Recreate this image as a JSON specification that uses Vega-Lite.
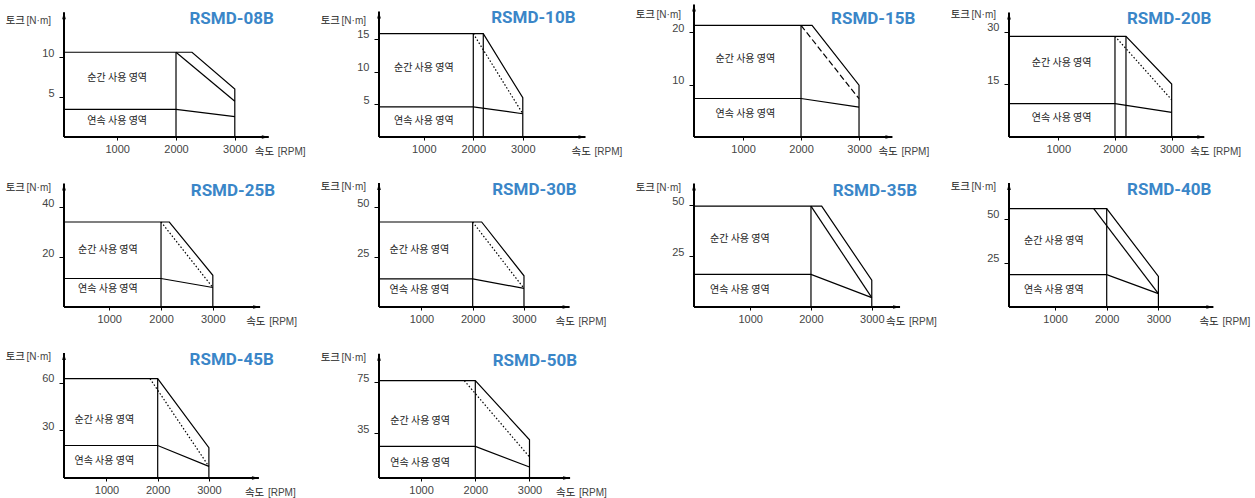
{
"$schema":"https://vega.github.io/schema/vega-lite/v6.json",
"padding":{"left":5,"top":0,"right":5,"bottom":0},
"background":"#ffffff",
"config":{"view":{"stroke":null},"numberFormat":"d",
"axis":{"domain":false,"grid":false,"tickColor":"#000","tickWidth":1,"labelColor":"#444","labelFont":"Liberation Sans Narrow, Liberation Sans","labelFontSize":11},
"axisX":{"tickSize":3,"labelPadding":3},
"axisY":{"tickSize":5,"labelPadding":5,"labelBaseline":"alphabetic","labelOffset":-1},
"line":{"stroke":"#000","strokeWidth":1.2},
"text":{"font":"Noto Sans CJK KR"}},
"datasets":{
"p1":[{"s":"yax","o":0,"x":95,"y":0},{"s":"yax","o":1,"x":95,"y":15.6},{"s":"xax","o":0,"x":95,"y":0},{"s":"xax","o":1,"x":3578,"y":0},
{"s":"peak","o":0,"x":95,"y":10.6},{"s":"peak","o":1,"x":2272,"y":10.6},{"s":"peak","o":2,"x":3000,"y":6.0},{"s":"peak","o":3,"x":3000,"y":0},
{"s":"v2000","o":0,"x":2000,"y":0},{"s":"v2000","o":1,"x":2000,"y":10.6},
{"s":"cont","o":0,"x":95,"y":3.46},{"s":"cont","o":1,"x":2000,"y":3.46},{"s":"cont","o":2,"x":3000,"y":2.54},
{"s":"inner","o":0,"x":2000,"y":10.6},{"s":"inner","o":1,"x":3000,"y":4.46},
{"s":"lab","o":0,"x":1000,"y":7.4,"t":"순간 사용 영역"},{"s":"lab","o":1,"x":1000,"y":2.0,"t":"연속 사용 영역"}],
"p2":[{"s":"yax","o":0,"x":95,"y":0},{"s":"yax","o":1,"x":95,"y":19.2},{"s":"xax","o":0,"x":95,"y":0},{"s":"xax","o":1,"x":4267,"y":0},
{"s":"peak","o":0,"x":95,"y":15.8},{"s":"peak","o":1,"x":2202,"y":15.8},{"s":"peak","o":2,"x":3000,"y":6.0},{"s":"peak","o":3,"x":3000,"y":0},
{"s":"v2000","o":0,"x":2000,"y":0},{"s":"v2000","o":1,"x":2000,"y":15.8},
{"s":"vk","o":0,"x":2202,"y":0},{"s":"vk","o":1,"x":2202,"y":15.8},
{"s":"cont","o":0,"x":95,"y":4.6},{"s":"cont","o":1,"x":2000,"y":4.6},{"s":"cont","o":2,"x":3000,"y":3.56},
{"s":"inner","o":0,"x":2000,"y":15.8},{"s":"inner","o":1,"x":3000,"y":3.56},
{"s":"lab","o":0,"x":1000,"y":10.6,"t":"순간 사용 영역"},{"s":"lab","o":1,"x":1000,"y":2.45,"t":"연속 사용 영역"}],
"p3":[{"s":"yax","o":0,"x":155,"y":0},{"s":"yax","o":1,"x":155,"y":25.3},{"s":"xax","o":0,"x":155,"y":0},{"s":"xax","o":1,"x":3576,"y":0},
{"s":"peak","o":0,"x":155,"y":21.3},{"s":"peak","o":1,"x":2190,"y":21.3},{"s":"peak","o":2,"x":3000,"y":9.9},{"s":"peak","o":3,"x":3000,"y":0},
{"s":"v2000","o":0,"x":2000,"y":0},{"s":"v2000","o":1,"x":2000,"y":21.3},
{"s":"cont","o":0,"x":155,"y":7.35},{"s":"cont","o":1,"x":2000,"y":7.35},{"s":"cont","o":2,"x":3000,"y":5.7},
{"s":"inner","o":0,"x":2000,"y":21.3},{"s":"inner","o":1,"x":3000,"y":7.3},
{"s":"lab","o":0,"x":1040,"y":14.9,"t":"순간 사용 영역"},{"s":"lab","o":1,"x":1040,"y":4.3,"t":"연속 사용 영역"}],
"p4":[{"s":"yax","o":0,"x":131,"y":0},{"s":"yax","o":1,"x":131,"y":35.5},{"s":"xax","o":0,"x":131,"y":0},{"s":"xax","o":1,"x":3575,"y":0},
{"s":"peak","o":0,"x":131,"y":28.7},{"s":"peak","o":1,"x":2194,"y":28.7},{"s":"peak","o":2,"x":3000,"y":15.1},{"s":"peak","o":3,"x":3000,"y":0},
{"s":"v2000","o":0,"x":2000,"y":0},{"s":"v2000","o":1,"x":2000,"y":28.7},
{"s":"vk","o":0,"x":2194,"y":0},{"s":"vk","o":1,"x":2194,"y":28.7},
{"s":"cont","o":0,"x":131,"y":9.5},{"s":"cont","o":1,"x":2000,"y":9.5},{"s":"cont","o":2,"x":3000,"y":7.0},
{"s":"inner","o":0,"x":2000,"y":28.7},{"s":"inner","o":1,"x":3000,"y":10.6},
{"s":"lab","o":0,"x":1060,"y":21.1,"t":"순간 사용 영역"},{"s":"lab","o":1,"x":1060,"y":5.4,"t":"연속 사용 영역"}],
"p5":[{"s":"yax","o":0,"x":127,"y":0},{"s":"yax","o":1,"x":127,"y":49.4},{"s":"xax","o":0,"x":127,"y":0},{"s":"xax","o":1,"x":3913,"y":0},
{"s":"peak","o":0,"x":127,"y":34},{"s":"peak","o":1,"x":2160,"y":34},{"s":"peak","o":2,"x":3000,"y":12.7},{"s":"peak","o":3,"x":3000,"y":0},
{"s":"v2000","o":0,"x":2000,"y":0},{"s":"v2000","o":1,"x":2000,"y":34},
{"s":"cont","o":0,"x":127,"y":11.4},{"s":"cont","o":1,"x":2000,"y":11.4},{"s":"cont","o":2,"x":3000,"y":7.8},
{"s":"inner","o":0,"x":2000,"y":34},{"s":"inner","o":1,"x":3000,"y":7.8},
{"s":"lab","o":0,"x":975,"y":23,"t":"순간 사용 영역"},{"s":"lab","o":1,"x":975,"y":7.1,"t":"연속 사용 영역"}],
"p6":[{"s":"yax","o":0,"x":174,"y":0},{"s":"yax","o":1,"x":174,"y":62},{"s":"xax","o":0,"x":174,"y":0},{"s":"xax","o":1,"x":3889,"y":0},
{"s":"peak","o":0,"x":174,"y":42.5},{"s":"peak","o":1,"x":2175,"y":42.5},{"s":"peak","o":2,"x":3000,"y":15.6},{"s":"peak","o":3,"x":3000,"y":0},
{"s":"v2000","o":0,"x":2000,"y":0},{"s":"v2000","o":1,"x":2000,"y":42.5},
{"s":"cont","o":0,"x":174,"y":14.1},{"s":"cont","o":1,"x":2000,"y":14.1},{"s":"cont","o":2,"x":3000,"y":9.3},
{"s":"inner","o":0,"x":2000,"y":42.5},{"s":"inner","o":1,"x":3000,"y":9.3},
{"s":"lab","o":0,"x":961,"y":28.6,"t":"순간 사용 영역"},{"s":"lab","o":1,"x":961,"y":8.3,"t":"연속 사용 영역"}],
"p7":[{"s":"yax","o":0,"x":76,"y":0},{"s":"yax","o":1,"x":76,"y":60.5},{"s":"xax","o":0,"x":76,"y":0},{"s":"xax","o":1,"x":3465,"y":0},
{"s":"peak","o":0,"x":76,"y":49.5},{"s":"peak","o":1,"x":2176,"y":49.5},{"s":"peak","o":2,"x":3000,"y":13.1},{"s":"peak","o":3,"x":3000,"y":0},
{"s":"v2000","o":0,"x":2000,"y":0},{"s":"v2000","o":1,"x":2000,"y":49.5},
{"s":"cont","o":0,"x":76,"y":16},{"s":"cont","o":1,"x":2000,"y":16},{"s":"cont","o":2,"x":3000,"y":4.6},
{"s":"inner","o":0,"x":2000,"y":49.5},{"s":"inner","o":1,"x":3000,"y":4.6},
{"s":"lab","o":0,"x":830,"y":33.5,"t":"순간 사용 영역"},{"s":"lab","o":1,"x":830,"y":8.2,"t":"연속 사용 영역"}],
"p8":[{"s":"yax","o":0,"x":110,"y":0},{"s":"yax","o":1,"x":110,"y":70.4},{"s":"xax","o":0,"x":110,"y":0},{"s":"xax","o":1,"x":4064,"y":0},
{"s":"peak","o":0,"x":110,"y":55.9},{"s":"peak","o":1,"x":2000,"y":55.9},{"s":"peak","o":2,"x":3000,"y":17.4},{"s":"peak","o":3,"x":3000,"y":0},
{"s":"v2000","o":0,"x":2000,"y":0},{"s":"v2000","o":1,"x":2000,"y":55.9},
{"s":"cont","o":0,"x":110,"y":18.4},{"s":"cont","o":1,"x":2000,"y":18.4},{"s":"cont","o":2,"x":3000,"y":7.6},
{"s":"inner","o":0,"x":1749,"y":55.9},{"s":"inner","o":1,"x":3000,"y":7.6},
{"s":"lab","o":0,"x":979,"y":37.7,"t":"순간 사용 영역"},{"s":"lab","o":1,"x":979,"y":9.4,"t":"연속 사용 영역"}],
"p9":[{"s":"yax","o":0,"x":170,"y":0},{"s":"yax","o":1,"x":170,"y":78.8},{"s":"xax","o":0,"x":170,"y":0},{"s":"xax","o":1,"x":3977,"y":0},
{"s":"peak","o":0,"x":170,"y":62.6},{"s":"peak","o":1,"x":2000,"y":62.6},{"s":"peak","o":2,"x":3000,"y":19.1},{"s":"peak","o":3,"x":3000,"y":0},
{"s":"v2000","o":0,"x":2000,"y":0},{"s":"v2000","o":1,"x":2000,"y":62.6},
{"s":"cont","o":0,"x":170,"y":20.5},{"s":"cont","o":1,"x":2000,"y":20.5},{"s":"cont","o":2,"x":3000,"y":7.3},
{"s":"inner","o":0,"x":1850,"y":62.6},{"s":"inner","o":1,"x":3000,"y":7.3},
{"s":"lab","o":0,"x":957,"y":36.7,"t":"순간 사용 영역"},{"s":"lab","o":1,"x":957,"y":10.5,"t":"연속 사용 영역"}],
"p10":[{"s":"yax","o":0,"x":223,"y":0},{"s":"yax","o":1,"x":223,"y":97.5},{"s":"xax","o":0,"x":223,"y":0},{"s":"xax","o":1,"x":3749,"y":0},
{"s":"peak","o":0,"x":223,"y":76.3},{"s":"peak","o":1,"x":2000,"y":76.3},{"s":"peak","o":2,"x":3000,"y":30},{"s":"peak","o":3,"x":3000,"y":0},
{"s":"v2000","o":0,"x":2000,"y":0},{"s":"v2000","o":1,"x":2000,"y":76.3},
{"s":"cont","o":0,"x":223,"y":24.8},{"s":"cont","o":1,"x":2000,"y":24.8},{"s":"cont","o":2,"x":3000,"y":8.6},
{"s":"inner","o":0,"x":1797,"y":76.3},{"s":"inner","o":1,"x":3000,"y":16.5},
{"s":"lab","o":0,"x":982,"y":44.4,"t":"순간 사용 영역"},{"s":"lab","o":1,"x":982,"y":11.8,"t":"연속 사용 영역"}]
},
"concat":[
{"width":250,"height":133,"data":{"name":"p1"},
"encoding":{"x":{"field":"x","type":"quantitative","scale":{"domain":[95,4347],"nice":false,"zero":false},"axis":{"values":[1000,2000,3000],"title":null}},
"y":{"field":"y","type":"quantitative","scale":{"domain":[0,16.63],"nice":false,"zero":false},"axis":{"values":[5,10],"title":null}}},
"layer":[
{"transform":[{"filter":"datum.s==='xax'||datum.s==='yax'"}],"mark":{"type":"line","strokeWidth":2},"encoding":{"detail":{"field":"s"},"order":{"field":"o"}}},
{"transform":[{"filter":"datum.s==='peak'||datum.s==='v2000'||datum.s==='vk'||datum.s==='cont'"}],"mark":{"type":"line"},"encoding":{"detail":{"field":"s"},"order":{"field":"o"}}},
{"transform":[{"filter":"datum.s==='inner'"}],"mark":{"type":"line"},"encoding":{"order":{"field":"o"}}},
{"transform":[{"filter":"(datum.s==='xax'||datum.s==='yax')&&datum.o===1"}],"mark":{"type":"point","filled":true,"color":"#000","opacity":1,"size":16,"strokeWidth":0},"encoding":{"shape":{"field":"s","scale":{"domain":["xax","yax"],"range":["M0,0L-3.5,-0.9L-3.5,0.9Z","M0,0L0.9,3.5L-0.9,3.5Z"]},"legend":null}}},
{"transform":[{"filter":"datum.s==='lab'"}],"mark":{"type":"text","fontSize":10,"color":"#222","align":"center","baseline":"middle"},"encoding":{"text":{"field":"t"}}},
{"transform":[{"filter":"datum.s==='yax'&&datum.o===1"}],"mark":{"type":"text","text":"토크","fontSize":10.5,"color":"#222","align":"right","baseline":"alphabetic","dx":-39,"dy":12}},
{"transform":[{"filter":"datum.s==='yax'&&datum.o===1"}],"mark":{"type":"text","text":"[N·m]","font":"Liberation Sans Narrow, Liberation Sans","fontSize":10,"color":"#444","align":"right","baseline":"alphabetic","dx":-13,"dy":12}},
{"transform":[{"filter":"datum.s==='xax'&&datum.o===1"}],"mark":{"type":"text","text":"속도","fontSize":10.5,"color":"#222","align":"left","baseline":"alphabetic","dx":-14,"dy":18}},
{"transform":[{"filter":"datum.s==='xax'&&datum.o===1"}],"mark":{"type":"text","text":"[RPM]","font":"Liberation Sans Narrow, Liberation Sans","fontSize":10,"color":"#444","align":"left","baseline":"alphabetic","dx":9,"dy":18}},
{"transform":[{"filter":"datum.s==='xax'&&datum.o===1"}],"mark":{"type":"text","text":"RSMD-08B","font":"Roboto","fontWeight":"bold","fontSize":17,"color":"#3a86c8","align":"right","baseline":"top","dx":5,"dy":-1},"encoding":{"y":{"datum":15.6}}}
]},
{"width":250,"height":133,"data":{"name":"p2"},
"encoding":{"x":{"field":"x","type":"quantitative","scale":{"domain":[95,5146],"nice":false,"zero":false},"axis":{"values":[1000,2000,3000],"title":null}},
"y":{"field":"y","type":"quantitative","scale":{"domain":[0,20.34],"nice":false,"zero":false},"axis":{"values":[5,10,15],"title":null}}},
"layer":[
{"transform":[{"filter":"datum.s==='xax'||datum.s==='yax'"}],"mark":{"type":"line","strokeWidth":2},"encoding":{"detail":{"field":"s"},"order":{"field":"o"}}},
{"transform":[{"filter":"datum.s==='peak'||datum.s==='v2000'||datum.s==='vk'||datum.s==='cont'"}],"mark":{"type":"line"},"encoding":{"detail":{"field":"s"},"order":{"field":"o"}}},
{"transform":[{"filter":"datum.s==='inner'"}],"mark":{"type":"line","strokeDash":[1.5,2]},"encoding":{"order":{"field":"o"}}},
{"transform":[{"filter":"(datum.s==='xax'||datum.s==='yax')&&datum.o===1"}],"mark":{"type":"point","filled":true,"color":"#000","opacity":1,"size":16,"strokeWidth":0},"encoding":{"shape":{"field":"s","scale":{"domain":["xax","yax"],"range":["M0,0L-3.5,-0.9L-3.5,0.9Z","M0,0L0.9,3.5L-0.9,3.5Z"]},"legend":null}}},
{"transform":[{"filter":"datum.s==='lab'"}],"mark":{"type":"text","fontSize":10,"color":"#222","align":"center","baseline":"middle"},"encoding":{"text":{"field":"t"}}},
{"transform":[{"filter":"datum.s==='yax'&&datum.o===1"}],"mark":{"type":"text","text":"토크","fontSize":10.5,"color":"#222","align":"right","baseline":"alphabetic","dx":-39,"dy":13}},
{"transform":[{"filter":"datum.s==='yax'&&datum.o===1"}],"mark":{"type":"text","text":"[N·m]","font":"Liberation Sans Narrow, Liberation Sans","fontSize":10,"color":"#444","align":"right","baseline":"alphabetic","dx":-13,"dy":13}},
{"transform":[{"filter":"datum.s==='xax'&&datum.o===1"}],"mark":{"type":"text","text":"속도","fontSize":10.5,"color":"#222","align":"left","baseline":"alphabetic","dx":-14,"dy":18}},
{"transform":[{"filter":"datum.s==='xax'&&datum.o===1"}],"mark":{"type":"text","text":"[RPM]","font":"Liberation Sans Narrow, Liberation Sans","fontSize":10,"color":"#444","align":"left","baseline":"alphabetic","dx":9,"dy":18}},
{"transform":[{"filter":"datum.s==='xax'&&datum.o===1"}],"mark":{"type":"text","text":"RSMD-10B","font":"Roboto","fontWeight":"bold","fontSize":17,"color":"#3a86c8","align":"right","baseline":"top","dx":-10,"dy":-1},"encoding":{"y":{"datum":19.2}}}
]},
{"width":250,"height":133,"data":{"name":"p3"},
"encoding":{"x":{"field":"x","type":"quantitative","scale":{"domain":[155,4465],"nice":false,"zero":false},"axis":{"values":[1000,2000,3000],"title":null}},
"y":{"field":"y","type":"quantitative","scale":{"domain":[0,25.38],"nice":false,"zero":false},"axis":{"values":[10,20],"title":null}}},
"layer":[
{"transform":[{"filter":"datum.s==='xax'||datum.s==='yax'"}],"mark":{"type":"line","strokeWidth":2},"encoding":{"detail":{"field":"s"},"order":{"field":"o"}}},
{"transform":[{"filter":"datum.s==='peak'||datum.s==='v2000'||datum.s==='vk'||datum.s==='cont'"}],"mark":{"type":"line"},"encoding":{"detail":{"field":"s"},"order":{"field":"o"}}},
{"transform":[{"filter":"datum.s==='inner'"}],"mark":{"type":"line","strokeDash":[6,3]},"encoding":{"order":{"field":"o"}}},
{"transform":[{"filter":"(datum.s==='xax'||datum.s==='yax')&&datum.o===1"}],"mark":{"type":"point","filled":true,"color":"#000","opacity":1,"size":16,"strokeWidth":0},"encoding":{"shape":{"field":"s","scale":{"domain":["xax","yax"],"range":["M0,0L-3.5,-0.9L-3.5,0.9Z","M0,0L0.9,3.5L-0.9,3.5Z"]},"legend":null}}},
{"transform":[{"filter":"datum.s==='lab'"}],"mark":{"type":"text","fontSize":10,"color":"#222","align":"center","baseline":"middle"},"encoding":{"text":{"field":"t"}}},
{"transform":[{"filter":"datum.s==='yax'&&datum.o===1"}],"mark":{"type":"text","text":"토크","fontSize":10.5,"color":"#222","align":"right","baseline":"alphabetic","dx":-39,"dy":14}},
{"transform":[{"filter":"datum.s==='yax'&&datum.o===1"}],"mark":{"type":"text","text":"[N·m]","font":"Liberation Sans Narrow, Liberation Sans","fontSize":10,"color":"#444","align":"right","baseline":"alphabetic","dx":-13,"dy":14}},
{"transform":[{"filter":"datum.s==='xax'&&datum.o===1"}],"mark":{"type":"text","text":"속도","fontSize":10.5,"color":"#222","align":"left","baseline":"alphabetic","dx":-14,"dy":18}},
{"transform":[{"filter":"datum.s==='xax'&&datum.o===1"}],"mark":{"type":"text","text":"[RPM]","font":"Liberation Sans Narrow, Liberation Sans","fontSize":10,"color":"#444","align":"left","baseline":"alphabetic","dx":9,"dy":18}},
{"transform":[{"filter":"datum.s==='xax'&&datum.o===1"}],"mark":{"type":"text","text":"RSMD-15B","font":"Roboto","fontWeight":"bold","fontSize":17,"color":"#3a86c8","align":"right","baseline":"top","dx":23,"dy":-1},"encoding":{"y":{"datum":23.8}}}
]},
{"width":250,"height":133,"data":{"name":"p4"},
"encoding":{"x":{"field":"x","type":"quantitative","scale":{"domain":[131,4540],"nice":false,"zero":false},"axis":{"values":[1000,2000,3000],"title":null}},
"y":{"field":"y","type":"quantitative","scale":{"domain":[0,37.9],"nice":false,"zero":false},"axis":{"values":[15,30],"title":null}}},
"layer":[
{"transform":[{"filter":"datum.s==='xax'||datum.s==='yax'"}],"mark":{"type":"line","strokeWidth":2},"encoding":{"detail":{"field":"s"},"order":{"field":"o"}}},
{"transform":[{"filter":"datum.s==='peak'||datum.s==='v2000'||datum.s==='vk'||datum.s==='cont'"}],"mark":{"type":"line"},"encoding":{"detail":{"field":"s"},"order":{"field":"o"}}},
{"transform":[{"filter":"datum.s==='inner'"}],"mark":{"type":"line","strokeDash":[1.5,2]},"encoding":{"order":{"field":"o"}}},
{"transform":[{"filter":"(datum.s==='xax'||datum.s==='yax')&&datum.o===1"}],"mark":{"type":"point","filled":true,"color":"#000","opacity":1,"size":16,"strokeWidth":0},"encoding":{"shape":{"field":"s","scale":{"domain":["xax","yax"],"range":["M0,0L-3.5,-0.9L-3.5,0.9Z","M0,0L0.9,3.5L-0.9,3.5Z"]},"legend":null}}},
{"transform":[{"filter":"datum.s==='lab'"}],"mark":{"type":"text","fontSize":10,"color":"#222","align":"center","baseline":"middle"},"encoding":{"text":{"field":"t"}}},
{"transform":[{"filter":"datum.s==='yax'&&datum.o===1"}],"mark":{"type":"text","text":"토크","fontSize":10.5,"color":"#222","align":"right","baseline":"alphabetic","dx":-39,"dy":6}},
{"transform":[{"filter":"datum.s==='yax'&&datum.o===1"}],"mark":{"type":"text","text":"[N·m]","font":"Liberation Sans Narrow, Liberation Sans","fontSize":10,"color":"#444","align":"right","baseline":"alphabetic","dx":-13,"dy":6}},
{"transform":[{"filter":"datum.s==='xax'&&datum.o===1"}],"mark":{"type":"text","text":"속도","fontSize":10.5,"color":"#222","align":"left","baseline":"alphabetic","dx":-14,"dy":18}},
{"transform":[{"filter":"datum.s==='xax'&&datum.o===1"}],"mark":{"type":"text","text":"[RPM]","font":"Liberation Sans Narrow, Liberation Sans","fontSize":10,"color":"#444","align":"left","baseline":"alphabetic","dx":9,"dy":18}},
{"transform":[{"filter":"datum.s==='xax'&&datum.o===1"}],"mark":{"type":"text","text":"RSMD-20B","font":"Roboto","fontWeight":"bold","fontSize":17,"color":"#3a86c8","align":"right","baseline":"top","dx":7,"dy":-1},"encoding":{"y":{"datum":35.5}}}
]},
{"width":250,"height":124,"data":{"name":"p5"},
"encoding":{"x":{"field":"x","type":"quantitative","scale":{"domain":[127,4953],"nice":false,"zero":false},"axis":{"values":[1000,2000,3000],"title":null}},
"y":{"field":"y","type":"quantitative","scale":{"domain":[0,49.6],"nice":false,"zero":false},"axis":{"values":[20,40],"title":null}}},
"layer":[
{"transform":[{"filter":"datum.s==='xax'||datum.s==='yax'"}],"mark":{"type":"line","strokeWidth":2},"encoding":{"detail":{"field":"s"},"order":{"field":"o"}}},
{"transform":[{"filter":"datum.s==='peak'||datum.s==='v2000'||datum.s==='vk'||datum.s==='cont'"}],"mark":{"type":"line"},"encoding":{"detail":{"field":"s"},"order":{"field":"o"}}},
{"transform":[{"filter":"datum.s==='inner'"}],"mark":{"type":"line","strokeDash":[1.5,2]},"encoding":{"order":{"field":"o"}}},
{"transform":[{"filter":"(datum.s==='xax'||datum.s==='yax')&&datum.o===1"}],"mark":{"type":"point","filled":true,"color":"#000","opacity":1,"size":16,"strokeWidth":0},"encoding":{"shape":{"field":"s","scale":{"domain":["xax","yax"],"range":["M0,0L-3.5,-0.9L-3.5,0.9Z","M0,0L0.9,3.5L-0.9,3.5Z"]},"legend":null}}},
{"transform":[{"filter":"datum.s==='lab'"}],"mark":{"type":"text","fontSize":10,"color":"#222","align":"center","baseline":"middle"},"encoding":{"text":{"field":"t"}}},
{"transform":[{"filter":"datum.s==='yax'&&datum.o===1"}],"mark":{"type":"text","text":"토크","fontSize":10.5,"color":"#222","align":"right","baseline":"alphabetic","dx":-39,"dy":7}},
{"transform":[{"filter":"datum.s==='yax'&&datum.o===1"}],"mark":{"type":"text","text":"[N·m]","font":"Liberation Sans Narrow, Liberation Sans","fontSize":10,"color":"#444","align":"right","baseline":"alphabetic","dx":-13,"dy":7}},
{"transform":[{"filter":"datum.s==='xax'&&datum.o===1"}],"mark":{"type":"text","text":"속도","fontSize":10.5,"color":"#222","align":"left","baseline":"alphabetic","dx":-14,"dy":18}},
{"transform":[{"filter":"datum.s==='xax'&&datum.o===1"}],"mark":{"type":"text","text":"[RPM]","font":"Liberation Sans Narrow, Liberation Sans","fontSize":10,"color":"#444","align":"left","baseline":"alphabetic","dx":9,"dy":18}},
{"transform":[{"filter":"datum.s==='xax'&&datum.o===1"}],"mark":{"type":"text","text":"RSMD-25B","font":"Roboto","fontWeight":"bold","fontSize":17,"color":"#3a86c8","align":"right","baseline":"top","dx":15,"dy":-1},"encoding":{"y":{"datum":49.4}}}
]},
{"width":250,"height":124,"data":{"name":"p6"},
"encoding":{"x":{"field":"x","type":"quantitative","scale":{"domain":[174,5047],"nice":false,"zero":false},"axis":{"values":[1000,2000,3000],"title":null}},
"y":{"field":"y","type":"quantitative","scale":{"domain":[0,62],"nice":false,"zero":false},"axis":{"values":[25,50],"title":null}}},
"layer":[
{"transform":[{"filter":"datum.s==='xax'||datum.s==='yax'"}],"mark":{"type":"line","strokeWidth":2},"encoding":{"detail":{"field":"s"},"order":{"field":"o"}}},
{"transform":[{"filter":"datum.s==='peak'||datum.s==='v2000'||datum.s==='vk'||datum.s==='cont'"}],"mark":{"type":"line"},"encoding":{"detail":{"field":"s"},"order":{"field":"o"}}},
{"transform":[{"filter":"datum.s==='inner'"}],"mark":{"type":"line","strokeDash":[1.5,2]},"encoding":{"order":{"field":"o"}}},
{"transform":[{"filter":"(datum.s==='xax'||datum.s==='yax')&&datum.o===1"}],"mark":{"type":"point","filled":true,"color":"#000","opacity":1,"size":16,"strokeWidth":0},"encoding":{"shape":{"field":"s","scale":{"domain":["xax","yax"],"range":["M0,0L-3.5,-0.9L-3.5,0.9Z","M0,0L0.9,3.5L-0.9,3.5Z"]},"legend":null}}},
{"transform":[{"filter":"datum.s==='lab'"}],"mark":{"type":"text","fontSize":10,"color":"#222","align":"center","baseline":"middle"},"encoding":{"text":{"field":"t"}}},
{"transform":[{"filter":"datum.s==='yax'&&datum.o===1"}],"mark":{"type":"text","text":"토크","fontSize":10.5,"color":"#222","align":"right","baseline":"alphabetic","dx":-39,"dy":7}},
{"transform":[{"filter":"datum.s==='yax'&&datum.o===1"}],"mark":{"type":"text","text":"[N·m]","font":"Liberation Sans Narrow, Liberation Sans","fontSize":10,"color":"#444","align":"right","baseline":"alphabetic","dx":-13,"dy":7}},
{"transform":[{"filter":"datum.s==='xax'&&datum.o===1"}],"mark":{"type":"text","text":"속도","fontSize":10.5,"color":"#222","align":"left","baseline":"alphabetic","dx":-14,"dy":18}},
{"transform":[{"filter":"datum.s==='xax'&&datum.o===1"}],"mark":{"type":"text","text":"[RPM]","font":"Liberation Sans Narrow, Liberation Sans","fontSize":10,"color":"#444","align":"left","baseline":"alphabetic","dx":9,"dy":18}},
{"transform":[{"filter":"datum.s==='xax'&&datum.o===1"}],"mark":{"type":"text","text":"RSMD-30B","font":"Roboto","fontWeight":"bold","fontSize":17,"color":"#3a86c8","align":"right","baseline":"top","dx":7,"dy":-1},"encoding":{"y":{"datum":62}}}
]},
{"width":250,"height":124,"data":{"name":"p7"},
"encoding":{"x":{"field":"x","type":"quantitative","scale":{"domain":[76,4188],"nice":false,"zero":false},"axis":{"values":[1000,2000,3000],"title":null}},
"y":{"field":"y","type":"quantitative","scale":{"domain":[0,60.8],"nice":false,"zero":false},"axis":{"values":[25,50],"title":null}}},
"layer":[
{"transform":[{"filter":"datum.s==='xax'||datum.s==='yax'"}],"mark":{"type":"line","strokeWidth":2},"encoding":{"detail":{"field":"s"},"order":{"field":"o"}}},
{"transform":[{"filter":"datum.s==='peak'||datum.s==='v2000'||datum.s==='vk'||datum.s==='cont'"}],"mark":{"type":"line"},"encoding":{"detail":{"field":"s"},"order":{"field":"o"}}},
{"transform":[{"filter":"datum.s==='inner'"}],"mark":{"type":"line"},"encoding":{"order":{"field":"o"}}},
{"transform":[{"filter":"(datum.s==='xax'||datum.s==='yax')&&datum.o===1"}],"mark":{"type":"point","filled":true,"color":"#000","opacity":1,"size":16,"strokeWidth":0},"encoding":{"shape":{"field":"s","scale":{"domain":["xax","yax"],"range":["M0,0L-3.5,-0.9L-3.5,0.9Z","M0,0L0.9,3.5L-0.9,3.5Z"]},"legend":null}}},
{"transform":[{"filter":"datum.s==='lab'"}],"mark":{"type":"text","fontSize":10,"color":"#222","align":"center","baseline":"middle"},"encoding":{"text":{"field":"t"}}},
{"transform":[{"filter":"datum.s==='yax'&&datum.o===1"}],"mark":{"type":"text","text":"토크","fontSize":10.5,"color":"#222","align":"right","baseline":"alphabetic","dx":-39,"dy":7}},
{"transform":[{"filter":"datum.s==='yax'&&datum.o===1"}],"mark":{"type":"text","text":"[N·m]","font":"Liberation Sans Narrow, Liberation Sans","fontSize":10,"color":"#444","align":"right","baseline":"alphabetic","dx":-13,"dy":7}},
{"transform":[{"filter":"datum.s==='xax'&&datum.o===1"}],"mark":{"type":"text","text":"속도","fontSize":10.5,"color":"#222","align":"left","baseline":"alphabetic","dx":-14,"dy":18}},
{"transform":[{"filter":"datum.s==='xax'&&datum.o===1"}],"mark":{"type":"text","text":"[RPM]","font":"Liberation Sans Narrow, Liberation Sans","fontSize":10,"color":"#444","align":"left","baseline":"alphabetic","dx":9,"dy":18}},
{"transform":[{"filter":"datum.s==='xax'&&datum.o===1"}],"mark":{"type":"text","text":"RSMD-35B","font":"Roboto","fontWeight":"bold","fontSize":17,"color":"#3a86c8","align":"right","baseline":"top","dx":17,"dy":-1},"encoding":{"y":{"datum":60.5}}}
]},
{"width":250,"height":124,"data":{"name":"p8"},
"encoding":{"x":{"field":"x","type":"quantitative","scale":{"domain":[110,4946],"nice":false,"zero":false},"axis":{"values":[1000,2000,3000],"title":null}},
"y":{"field":"y","type":"quantitative","scale":{"domain":[0,70.45],"nice":false,"zero":false},"axis":{"values":[25,50],"title":null}}},
"layer":[
{"transform":[{"filter":"datum.s==='xax'||datum.s==='yax'"}],"mark":{"type":"line","strokeWidth":2},"encoding":{"detail":{"field":"s"},"order":{"field":"o"}}},
{"transform":[{"filter":"datum.s==='peak'||datum.s==='v2000'||datum.s==='vk'||datum.s==='cont'"}],"mark":{"type":"line"},"encoding":{"detail":{"field":"s"},"order":{"field":"o"}}},
{"transform":[{"filter":"datum.s==='inner'"}],"mark":{"type":"line"},"encoding":{"order":{"field":"o"}}},
{"transform":[{"filter":"(datum.s==='xax'||datum.s==='yax')&&datum.o===1"}],"mark":{"type":"point","filled":true,"color":"#000","opacity":1,"size":16,"strokeWidth":0},"encoding":{"shape":{"field":"s","scale":{"domain":["xax","yax"],"range":["M0,0L-3.5,-0.9L-3.5,0.9Z","M0,0L0.9,3.5L-0.9,3.5Z"]},"legend":null}}},
{"transform":[{"filter":"datum.s==='lab'"}],"mark":{"type":"text","fontSize":10,"color":"#222","align":"center","baseline":"middle"},"encoding":{"text":{"field":"t"}}},
{"transform":[{"filter":"datum.s==='yax'&&datum.o===1"}],"mark":{"type":"text","text":"토크","fontSize":10.5,"color":"#222","align":"right","baseline":"alphabetic","dx":-39,"dy":7}},
{"transform":[{"filter":"datum.s==='yax'&&datum.o===1"}],"mark":{"type":"text","text":"[N·m]","font":"Liberation Sans Narrow, Liberation Sans","fontSize":10,"color":"#444","align":"right","baseline":"alphabetic","dx":-13,"dy":7}},
{"transform":[{"filter":"datum.s==='xax'&&datum.o===1"}],"mark":{"type":"text","text":"속도","fontSize":10.5,"color":"#222","align":"left","baseline":"alphabetic","dx":-14,"dy":18}},
{"transform":[{"filter":"datum.s==='xax'&&datum.o===1"}],"mark":{"type":"text","text":"[RPM]","font":"Liberation Sans Narrow, Liberation Sans","fontSize":10,"color":"#444","align":"left","baseline":"alphabetic","dx":9,"dy":18}},
{"transform":[{"filter":"datum.s==='xax'&&datum.o===1"}],"mark":{"type":"text","text":"RSMD-40B","font":"Roboto","fontWeight":"bold","fontSize":17,"color":"#3a86c8","align":"right","baseline":"top","dx":-2,"dy":-1},"encoding":{"y":{"datum":70.4}}}
]},
{"width":250,"height":125,"data":{"name":"p9"},
"encoding":{"x":{"field":"x","type":"quantitative","scale":{"domain":[170,5053],"nice":false,"zero":false},"axis":{"values":[1000,2000,3000],"title":null}},
"y":{"field":"y","type":"quantitative","scale":{"domain":[0,78.8],"nice":false,"zero":false},"axis":{"values":[30,60],"title":null}}},
"layer":[
{"transform":[{"filter":"datum.s==='xax'||datum.s==='yax'"}],"mark":{"type":"line","strokeWidth":2},"encoding":{"detail":{"field":"s"},"order":{"field":"o"}}},
{"transform":[{"filter":"datum.s==='peak'||datum.s==='v2000'||datum.s==='vk'||datum.s==='cont'"}],"mark":{"type":"line"},"encoding":{"detail":{"field":"s"},"order":{"field":"o"}}},
{"transform":[{"filter":"datum.s==='inner'"}],"mark":{"type":"line","strokeDash":[1.5,2]},"encoding":{"order":{"field":"o"}}},
{"transform":[{"filter":"(datum.s==='xax'||datum.s==='yax')&&datum.o===1"}],"mark":{"type":"point","filled":true,"color":"#000","opacity":1,"size":16,"strokeWidth":0},"encoding":{"shape":{"field":"s","scale":{"domain":["xax","yax"],"range":["M0,0L-3.5,-0.9L-3.5,0.9Z","M0,0L0.9,3.5L-0.9,3.5Z"]},"legend":null}}},
{"transform":[{"filter":"datum.s==='lab'"}],"mark":{"type":"text","fontSize":10,"color":"#222","align":"center","baseline":"middle"},"encoding":{"text":{"field":"t"}}},
{"transform":[{"filter":"datum.s==='yax'&&datum.o===1"}],"mark":{"type":"text","text":"토크","fontSize":10.5,"color":"#222","align":"right","baseline":"alphabetic","dx":-39,"dy":7}},
{"transform":[{"filter":"datum.s==='yax'&&datum.o===1"}],"mark":{"type":"text","text":"[N·m]","font":"Liberation Sans Narrow, Liberation Sans","fontSize":10,"color":"#444","align":"right","baseline":"alphabetic","dx":-13,"dy":7}},
{"transform":[{"filter":"datum.s==='xax'&&datum.o===1"}],"mark":{"type":"text","text":"속도","fontSize":10.5,"color":"#222","align":"left","baseline":"alphabetic","dx":-14,"dy":18}},
{"transform":[{"filter":"datum.s==='xax'&&datum.o===1"}],"mark":{"type":"text","text":"[RPM]","font":"Liberation Sans Narrow, Liberation Sans","fontSize":10,"color":"#444","align":"left","baseline":"alphabetic","dx":9,"dy":18}},
{"transform":[{"filter":"datum.s==='xax'&&datum.o===1"}],"mark":{"type":"text","text":"RSMD-45B","font":"Roboto","fontWeight":"bold","fontSize":17,"color":"#3a86c8","align":"right","baseline":"top","dx":15,"dy":-1},"encoding":{"y":{"datum":78.8}}}
]},
{"width":250,"height":125,"data":{"name":"p10"},
"encoding":{"x":{"field":"x","type":"quantitative","scale":{"domain":[223,4836],"nice":false,"zero":false},"axis":{"values":[1000,2000,3000],"title":null}},
"y":{"field":"y","type":"quantitative","scale":{"domain":[0,98],"nice":false,"zero":false},"axis":{"values":[35,75],"title":null}}},
"layer":[
{"transform":[{"filter":"datum.s==='xax'||datum.s==='yax'"}],"mark":{"type":"line","strokeWidth":2},"encoding":{"detail":{"field":"s"},"order":{"field":"o"}}},
{"transform":[{"filter":"datum.s==='peak'||datum.s==='v2000'||datum.s==='vk'||datum.s==='cont'"}],"mark":{"type":"line"},"encoding":{"detail":{"field":"s"},"order":{"field":"o"}}},
{"transform":[{"filter":"datum.s==='inner'"}],"mark":{"type":"line","strokeDash":[1.5,2]},"encoding":{"order":{"field":"o"}}},
{"transform":[{"filter":"(datum.s==='xax'||datum.s==='yax')&&datum.o===1"}],"mark":{"type":"point","filled":true,"color":"#000","opacity":1,"size":16,"strokeWidth":0},"encoding":{"shape":{"field":"s","scale":{"domain":["xax","yax"],"range":["M0,0L-3.5,-0.9L-3.5,0.9Z","M0,0L0.9,3.5L-0.9,3.5Z"]},"legend":null}}},
{"transform":[{"filter":"datum.s==='lab'"}],"mark":{"type":"text","fontSize":10,"color":"#222","align":"center","baseline":"middle"},"encoding":{"text":{"field":"t"}}},
{"transform":[{"filter":"datum.s==='yax'&&datum.o===1"}],"mark":{"type":"text","text":"토크","fontSize":10.5,"color":"#222","align":"right","baseline":"alphabetic","dx":-39,"dy":7}},
{"transform":[{"filter":"datum.s==='yax'&&datum.o===1"}],"mark":{"type":"text","text":"[N·m]","font":"Liberation Sans Narrow, Liberation Sans","fontSize":10,"color":"#444","align":"right","baseline":"alphabetic","dx":-13,"dy":7}},
{"transform":[{"filter":"datum.s==='xax'&&datum.o===1"}],"mark":{"type":"text","text":"속도","fontSize":10.5,"color":"#222","align":"left","baseline":"alphabetic","dx":-14,"dy":18}},
{"transform":[{"filter":"datum.s==='xax'&&datum.o===1"}],"mark":{"type":"text","text":"[RPM]","font":"Liberation Sans Narrow, Liberation Sans","fontSize":10,"color":"#444","align":"left","baseline":"alphabetic","dx":9,"dy":18}},
{"transform":[{"filter":"datum.s==='xax'&&datum.o===1"}],"mark":{"type":"text","text":"RSMD-50B","font":"Roboto","fontWeight":"bold","fontSize":17,"color":"#3a86c8","align":"right","baseline":"top","dx":7,"dy":-1},"encoding":{"y":{"datum":97.5}}}
]}
],
"columns":4,
"spacing":{"row":46,"column":65},
"bounds":"flush"
}
